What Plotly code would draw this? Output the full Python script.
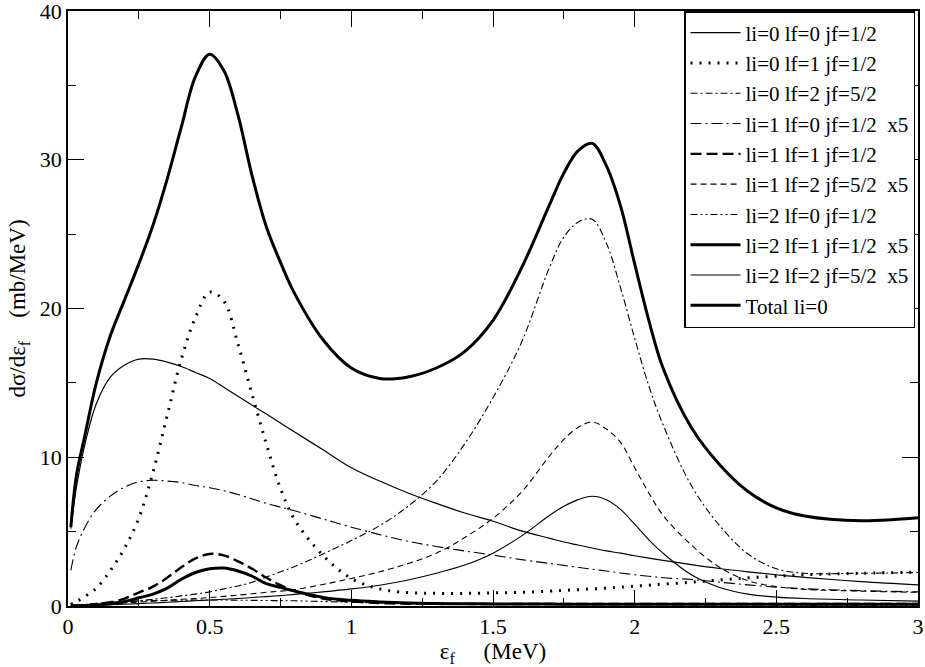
import plotly.graph_objects as go

# energy grid (MeV)
eps_f = [0.01, 0.03, 0.06, 0.1, 0.15, 0.2, 0.25, 0.3, 0.35, 0.4, 0.45, 0.5, 0.55, 0.6, 0.65,
         0.7, 0.75, 0.8, 0.9, 1.0, 1.1, 1.2, 1.3, 1.4, 1.5, 1.6, 1.7, 1.75, 1.8, 1.85, 1.9,
         1.95, 2.0, 2.05, 2.1, 2.2, 2.3, 2.4, 2.5, 2.6, 2.8, 3.0]

li0_lf0 = [5.2, 8.0, 10.9, 13.6, 15.4, 16.2, 16.6, 16.6, 16.4, 16.1, 15.7, 15.3, 14.7, 14.1, 13.5,
           12.9, 12.3, 11.7, 10.5, 9.3, 8.4, 7.6, 6.9, 6.25, 5.7, 5.05, 4.55, 4.3, 4.1, 3.9, 3.7,
           3.55, 3.38, 3.22, 3.07, 2.78, 2.52, 2.3, 2.1, 1.92, 1.64, 1.42]
li0_lf1 = [0.1, 0.3, 0.65, 1.2, 2.4, 3.9, 5.9, 9.0, 12.8, 16.6, 19.4, 21.1, 20.5, 17.6, 14.2,
           10.9, 7.9, 5.8, 3.4, 1.85, 1.15, 0.9, 0.85, 0.85, 0.88, 0.92, 1.0, 1.05, 1.1, 1.15, 1.2,
           1.27, 1.33, 1.4, 1.47, 1.6, 1.75, 1.9, 2.0, 2.1, 2.2, 2.28]
li0_lf2 = [0.0, 0.02, 0.05, 0.1, 0.17, 0.25, 0.35, 0.45, 0.55, 0.68, 0.8, 0.95, 1.15, 1.35, 1.6,
           1.95, 2.3, 2.65, 3.5, 4.4, 5.4, 6.7, 8.4, 10.9, 14.0, 17.7, 22.8, 24.8, 25.8, 26.0, 24.4,
           21.4, 18.0, 14.8, 12.2, 8.1, 5.4, 3.5, 2.5, 2.2, 2.2, 2.25]
li1_lf0 = [2.4, 4.0, 5.3, 6.5, 7.4, 8.0, 8.35, 8.45, 8.4, 8.3, 8.1, 7.95, 7.75, 7.5, 7.2,
           6.9, 6.65, 6.4, 5.85, 5.3, 4.8, 4.35, 4.0, 3.7, 3.42, 3.12, 2.86, 2.73, 2.6, 2.47, 2.35,
           2.22, 2.1, 2.0, 1.9, 1.78, 1.6, 1.42, 1.27, 1.16, 1.03, 0.95]
li1_lf1 = [0.0, 0.02, 0.05, 0.12, 0.25, 0.5, 0.9, 1.3, 1.9, 2.6, 3.2, 3.5, 3.4, 3.0, 2.5,
           1.9, 1.4, 1.0, 0.5, 0.3, 0.2, 0.15, 0.14, 0.14, 0.13, 0.13, 0.13, 0.13, 0.13, 0.13, 0.13,
           0.13, 0.13, 0.13, 0.13, 0.13, 0.13, 0.13, 0.13, 0.13, 0.13, 0.13]
li1_lf2 = [0.0, 0.02, 0.05, 0.1, 0.15, 0.2, 0.26, 0.32, 0.38, 0.45, 0.5, 0.57, 0.65, 0.73, 0.82,
           0.92, 1.0, 1.1, 1.45, 1.85, 2.3, 2.85, 3.55, 4.6, 5.9, 7.65, 10.1, 11.2, 12.0, 12.37, 11.9,
           11.0, 9.3, 7.6, 6.1, 4.1, 2.6, 1.7, 1.3, 1.12, 1.0, 0.92]
li2_lf0 = [0.0, 0.05, 0.1, 0.18, 0.25, 0.3, 0.34, 0.36, 0.38, 0.39, 0.4, 0.4, 0.4, 0.39, 0.38,
           0.37, 0.36, 0.35, 0.3, 0.25, 0.21, 0.18, 0.16, 0.14, 0.12, 0.11, 0.1, 0.1, 0.09, 0.09, 0.09,
           0.08, 0.08, 0.08, 0.08, 0.07, 0.07, 0.07, 0.06, 0.06, 0.05, 0.05]
li2_lf1 = [0.0, 0.01, 0.03, 0.07, 0.15, 0.3, 0.55, 0.8, 1.2, 1.8, 2.25, 2.5, 2.55, 2.35, 2.0,
           1.5, 1.25, 1.0, 0.58, 0.38, 0.27, 0.2, 0.17, 0.15, 0.14, 0.13, 0.13, 0.12, 0.12, 0.12, 0.12,
           0.12, 0.12, 0.12, 0.12, 0.12, 0.12, 0.12, 0.12, 0.12, 0.12, 0.12]
li2_lf2 = [0.0, 0.01, 0.03, 0.05, 0.08, 0.12, 0.16, 0.2, 0.25, 0.3, 0.35, 0.4, 0.45, 0.5, 0.57,
           0.63, 0.7, 0.78, 0.95, 1.15, 1.4, 1.75, 2.2, 2.75, 3.55, 4.7, 6.1, 6.7, 7.15, 7.38, 7.15,
           6.5, 5.5, 4.45, 3.55, 2.1, 1.25, 0.8, 0.6, 0.5, 0.4, 0.33]
total_li0 = [5.3, 8.8, 11.5, 15.0, 18.2, 20.6, 23.0, 25.6, 28.7, 32.2, 35.6, 37.1, 36.0, 33.0, 28.9,
             25.5, 23.1, 21.0, 17.9, 16.0, 15.3, 15.4, 16.0, 17.1, 19.2, 22.7, 27.0, 29.1, 30.6, 31.1, 29.6,
             26.9, 23.0, 19.2, 16.0, 12.0, 9.5, 7.7, 6.6, 6.05, 5.73, 5.93]

labels = ["li=0 lf=0 jf=1/2", "li=0 lf=1 jf=1/2", "li=0 lf=2 jf=5/2",
          "li=1 lf=0 jf=1/2  x5", "li=1 lf=1 jf=1/2", "li=1 lf=2 jf=5/2  x5",
          "li=2 lf=0 jf=1/2", "li=2 lf=1 jf=1/2  x5", "li=2 lf=2 jf=5/2  x5",
          "Total li=0"]
series = [li0_lf0, li0_lf1, li0_lf2, li1_lf0, li1_lf1, li1_lf2, li2_lf0, li2_lf1, li2_lf2, total_li0]

# (width, dash) per curve, grace-like styles
styles = [
    (1.2, "solid"),
    (3.0, "2px,7px"),
    (1.1, "7px,3px,2px,3px"),
    (1.1, "11px,4px,2px,4px"),
    (2.4, "11px,5px"),
    (1.1, "6px,4px"),
    (1.1, "7px,3px,2px,3px,2px,3px"),
    (3.0, "solid"),
    (1.1, "solid"),
    (3.0, "solid"),
]

SERIF = "'Liberation Serif'"

fig = go.Figure()
for name, ys, (w, d) in zip(labels, series, styles):
    fig.add_trace(go.Scatter(x=eps_f, y=ys, name=name, mode="lines",
                             line=dict(color="black", width=w, dash=d, shape="spline", smoothing=1.0)))

axis_common = dict(showline=True, linecolor="black", linewidth=1.5, mirror="ticks",
                   ticks="inside", ticklen=16, tickwidth=1.3, tickcolor="black",
                   showgrid=False, zeroline=False, automargin=False, ticklabeloverflow="allow",
                   tickfont=dict(family=SERIF, size=22, color="black"))

fig.update_xaxes(range=[0, 3], dtick=0.5,
                 minor=dict(ticks="inside", ticklen=8, dtick=0.25, tickcolor="black", tickwidth=1.3),
                 title=dict(text="ε<sub>f</sub>     (MeV)", standoff=2,
                            font=dict(family=SERIF, size=23, color="black")),
                 **axis_common)
fig.update_yaxes(range=[0, 40], dtick=10,
                 minor=dict(ticks="inside", ticklen=8, dtick=5, tickcolor="black", tickwidth=1.3),
                 title=dict(text="dσ/dε<sub>f</sub>    (mb/MeV)", standoff=8,
                            font=dict(family=SERIF, size=23, color="black")),
                 **axis_common)

fig.update_layout(
    width=925, height=667,
    margin=dict(l=68, r=7, t=11, b=61),
    paper_bgcolor="white", plot_bgcolor="white",
    font=dict(family=SERIF, color="black"),
    showlegend=True,
    legend=dict(x=0.9965, y=1, xanchor="right", yanchor="top",
                bgcolor="white", bordercolor="black", borderwidth=1.5,
                font=dict(family=SERIF, size=21, color="black"),
                tracegroupgap=0, itemwidth=50),
)

fig.write_html("out.html", config={"displayModeBar": False},
               post_script="document.body.style.margin='0';")
